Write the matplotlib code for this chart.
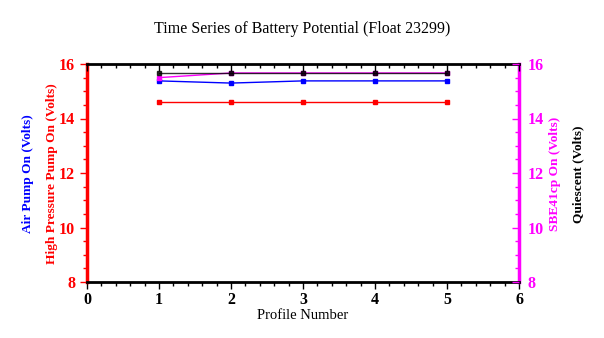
import matplotlib
matplotlib.use('Agg')
import matplotlib.pyplot as plt
from matplotlib.ticker import MultipleLocator

plt.rcParams['font.family'] = ['Liberation Serif', 'DejaVu Serif']

profiles = [1, 2, 3, 4, 5]
air_pump = [15.38, 15.30, 15.38, 15.38, 15.38]
hp_pump = [14.60, 14.60, 14.60, 14.60, 14.60]
sbe41cp = [15.50, 15.67, 15.67, 15.67, 15.67]
quiescent = [15.67, 15.67, 15.67, 15.67, 15.67]

fig = plt.figure(figsize=(6.04, 3.38), dpi=100)
ax = fig.add_axes([87/604, 1-282/338, (519-87)/604, (282-64)/338])

ax.plot(profiles, hp_pump, '-s', color='red', ms=3.5, lw=1)
ax.plot(profiles, air_pump, '-s', color='blue', ms=3.5, lw=1)
ax.plot(profiles, sbe41cp, '-s', color='magenta', ms=3.5, lw=1)
ax.plot(profiles, quiescent, '-s', color='black', ms=3.5, lw=1, alpha=0.8)

ax.set_xlim(0, 6)
ax.set_ylim(8, 16)
ax.xaxis.set_major_locator(MultipleLocator(1))
ax.xaxis.set_minor_locator(MultipleLocator(0.2))
ax.yaxis.set_major_locator(MultipleLocator(2))
ax.yaxis.set_minor_locator(MultipleLocator(0.5))

ax.spines['left'].set_color('red')
ax.spines['left'].set_linewidth(2.5)
ax.spines['right'].set_color('magenta')
ax.spines['right'].set_linewidth(2.5)
ax.spines['top'].set_linewidth(2)
ax.spines['bottom'].set_linewidth(2)

ax.tick_params(axis='x', which='both', direction='out', labelsize=11.5, width=1, pad=2)
ax.tick_params(axis='x', which='major', length=5)
ax.tick_params(axis='x', which='minor', length=3)
ax.tick_params(axis='y', which='both', colors='red', labelsize=11.5, direction='out', width=1)
ax.tick_params(axis='y', which='major', length=5)
ax.tick_params(axis='y', which='minor', length=3)
for t in ax.get_xticklabels() + ax.get_yticklabels():
    t.set_fontweight('bold')

# top ticks point inward
axt = ax.twiny()
axt.set_xlim(0, 6)
axt.xaxis.set_major_locator(MultipleLocator(1))
axt.xaxis.set_minor_locator(MultipleLocator(0.2))
axt.tick_params(axis='x', which='both', direction='in', width=1, labeltop=False)
axt.tick_params(axis='x', which='major', length=5)
axt.tick_params(axis='x', which='minor', length=3)
for s in axt.spines.values():
    s.set_visible(False)

ax2 = ax.twinx()
ax2.set_ylim(8, 16)
ax2.yaxis.set_major_locator(MultipleLocator(2))
ax2.yaxis.set_minor_locator(MultipleLocator(0.5))
ax2.tick_params(axis='y', which='both', colors='magenta', labelsize=11.5, direction='in', width=1, pad=6)
ax2.tick_params(axis='y', which='major', length=5)
ax2.tick_params(axis='y', which='minor', length=3)
for s in ax2.spines.values():
    s.set_visible(False)
for t in ax2.get_yticklabels():
    t.set_fontweight('bold')

ax.set_xlabel('Profile Number', fontsize=10.5, labelpad=1)
fig.text(0.5, 0.915, 'Time Series of Battery Potential (Float 23299)', ha='center', va='center', fontsize=11.5)
ylab_y = 1 - 174/338
fig.text(28/604, ylab_y, 'Air Pump On (Volts)', color='blue', rotation=90, ha='center', va='center', fontsize=9.6, fontweight='bold')
fig.text(52/604, ylab_y, 'High Pressure Pump On (Volts)', color='red', rotation=90, ha='center', va='center', fontsize=9.6, fontweight='bold')
fig.text(555/604, ylab_y, 'SBE41cp On (Volts)', color='magenta', rotation=90, ha='center', va='center', fontsize=9.6, fontweight='bold')
fig.text(578/604, ylab_y, 'Quiescent (Volts)', color='black', rotation=90, ha='center', va='center', fontsize=9.6, fontweight='bold')

fig.savefig('out.png', dpi=100)
